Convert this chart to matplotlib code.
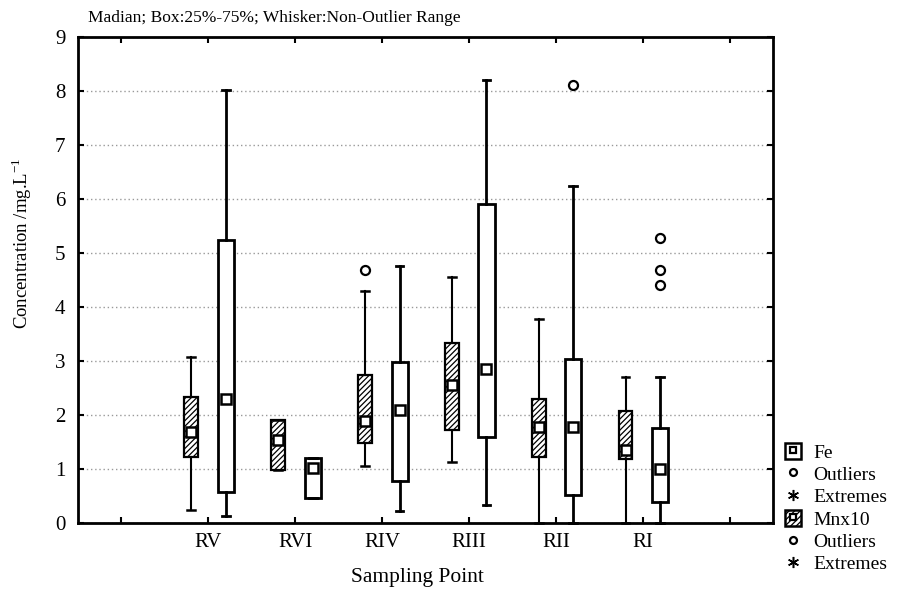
import matplotlib
matplotlib.use("Agg")
import matplotlib.pyplot as plt
from matplotlib.patches import Rectangle
from matplotlib.lines import Line2D
from matplotlib.legend_handler import HandlerTuple

plt.rcParams["font.family"] = ["Liberation Serif", "DejaVu Serif"]
plt.rcParams["mathtext.fontset"] = "custom"
plt.rcParams["mathtext.rm"] = "Liberation Serif"
plt.rcParams["hatch.linewidth"] = 0.9

# Sampling points along the river
sites = ["RV", "RVI", "RIV", "RIII", "RII", "RI"]

# Mn (x10) summary statistics per site
mn_low = [0.24, 0.99, 1.06, 1.12, 0.0, 0.0]
mn_q1 = [1.23, 0.99, 1.48, 1.72, 1.22, 1.19]
mn_med = [1.69, 1.54, 1.88, 2.56, 1.78, 1.35]
mn_q3 = [2.33, 1.91, 2.74, 3.33, 2.29, 2.07]
mn_high = [3.08, 1.91, 4.30, 4.55, 3.77, 2.70]
mn_outliers = [[], [], [4.69], [], [], []]

# Fe summary statistics per site
fe_low = [0.13, 0.46, 0.23, 0.33, 0.0, 0.0]
fe_q1 = [0.58, 0.46, 0.77, 1.59, 0.52, 0.38]
fe_med = [2.30, 1.01, 2.09, 2.86, 1.78, 1.00]
fe_q3 = [5.24, 1.20, 2.98, 5.90, 3.04, 1.75]
fe_high = [8.01, 1.20, 4.75, 8.20, 6.24, 2.70]
fe_outliers = [[], [], [], [], [8.11], [5.27, 4.69, 4.40]]

y_ticks = [0, 1, 2, 3, 4, 5, 6, 7, 8, 9]


def make_stats(low, q1, med, q3, high, outl):
    stats = []
    for lo, a, m, b, hi, fl in zip(low, q1, med, q3, high, outl):
        stats.append(dict(whislo=lo, q1=a, med=m, q3=b, whishi=hi, fliers=fl))
    return stats


fig = plt.figure(figsize=(8.98, 5.90), dpi=100)
ax = fig.add_axes([0.0869, 0.1136, 0.7742, 0.8237])

centers = list(range(1, len(sites) + 1))
off = 0.2
mn_pos = [c - off for c in centers]
fe_pos = [c + off for c in centers]

flier_kw = dict(marker="o", markersize=6.5, markerfacecolor="white",
                markeredgecolor="black", markeredgewidth=1.6, linestyle="none")

mn = ax.bxp(make_stats(mn_low, mn_q1, mn_med, mn_q3, mn_high, mn_outliers),
            positions=mn_pos, widths=0.16, capwidths=0.09, patch_artist=True,
            boxprops=dict(facecolor="white", edgecolor="black", linewidth=1.6, hatch="//////"),
            whiskerprops=dict(color="black", linewidth=1.5),
            capprops=dict(color="black", linewidth=1.8),
            medianprops=dict(visible=False), flierprops=flier_kw, manage_ticks=False)
fe = ax.bxp(make_stats(fe_low, fe_q1, fe_med, fe_q3, fe_high, fe_outliers),
            positions=fe_pos, widths=0.185, capwidths=0.09, patch_artist=True,
            boxprops=dict(facecolor="white", edgecolor="black", linewidth=2.0),
            whiskerprops=dict(color="black", linewidth=2.0),
            capprops=dict(color="black", linewidth=2.0),
            medianprops=dict(visible=False), flierprops=flier_kw, manage_ticks=False)
for art in mn["caps"] + fe["caps"] + mn["whiskers"] + fe["whiskers"]:
    art.set_clip_on(False)

# Medians shown as small open squares
sq_kw = dict(marker="s", markersize=6.5, markerfacecolor="white",
             markeredgecolor="black", markeredgewidth=1.8, linestyle="none", zorder=5)
ax.plot(mn_pos, mn_med, **sq_kw)
ax.plot(fe_pos, fe_med, **sq_kw)

ax.set_xlim(-0.5, 7.5)
ax.set_ylim(0, 9)
ax.set_xticks(range(0, 8))
ax.set_xticklabels([""] + sites + [""], fontsize=15)
ax.set_yticks(y_ticks)
ax.set_yticklabels([str(v) for v in y_ticks], fontsize=15)
ax.tick_params(direction="in", length=4, width=1.5, top=True, right=True)
ax.tick_params(axis="x", pad=7)
ax.tick_params(axis="y", pad=9)
for s in ax.spines.values():
    s.set_linewidth(2.0)
ax.yaxis.grid(True, linestyle=(0, (1, 2)), color="#999999", linewidth=1.0)
ax.set_axisbelow(True)

ax.set_xlabel("Sampling Point", fontsize=15.5)
ax.xaxis.set_label_coords(0.488, -0.092)
ax.set_ylabel("Concentration /mg.L$^{\\mathrm{-1}}$", fontsize=13.5)
ax.yaxis.set_label_coords(-0.064, 0.575)
fig.text(0.098, 0.97, "Madian; Box:25%-75%; Whisker:Non-Outlier Range", fontsize=12.5,
         ha="left", va="center")

# Legend entries
fe_h = (Rectangle((0, 0), 1, 1, facecolor="white", edgecolor="black", linewidth=1.8),
        Line2D([], [], marker="s", markersize=5, markerfacecolor="white",
               markeredgecolor="black", markeredgewidth=1.6, linestyle="none"))
mn_h = (Rectangle((0, 0), 1, 1, facecolor="white", edgecolor="black", linewidth=1.8, hatch="//////"),
        Line2D([], [], marker="s", markersize=5, markerfacecolor="white",
               markeredgecolor="black", markeredgewidth=1.6, linestyle="none"))
out_h = Line2D([], [], marker="o", markersize=5, markerfacecolor="white",
               markeredgecolor="black", markeredgewidth=1.6, linestyle="none")
ext_h = Line2D([], [], marker=(6, 2, 0), markersize=8, color="black",
               markeredgewidth=1.1, linestyle="none")
fig.legend([fe_h, out_h, ext_h, mn_h, out_h, ext_h],
           ["Fe", "Outliers", "Extremes", "Mnx10", "Outliers", "Extremes"],
           handler_map={tuple: HandlerTuple(ndivide=1, pad=0)},
           loc="upper left", bbox_to_anchor=(0.874, 0.250), frameon=False,
           fontsize=14, handlelength=0.85, handleheight=0.95, handletextpad=0.6,
           labelspacing=0.17, borderpad=0, borderaxespad=0)

fig.savefig("out.png", dpi=100)
